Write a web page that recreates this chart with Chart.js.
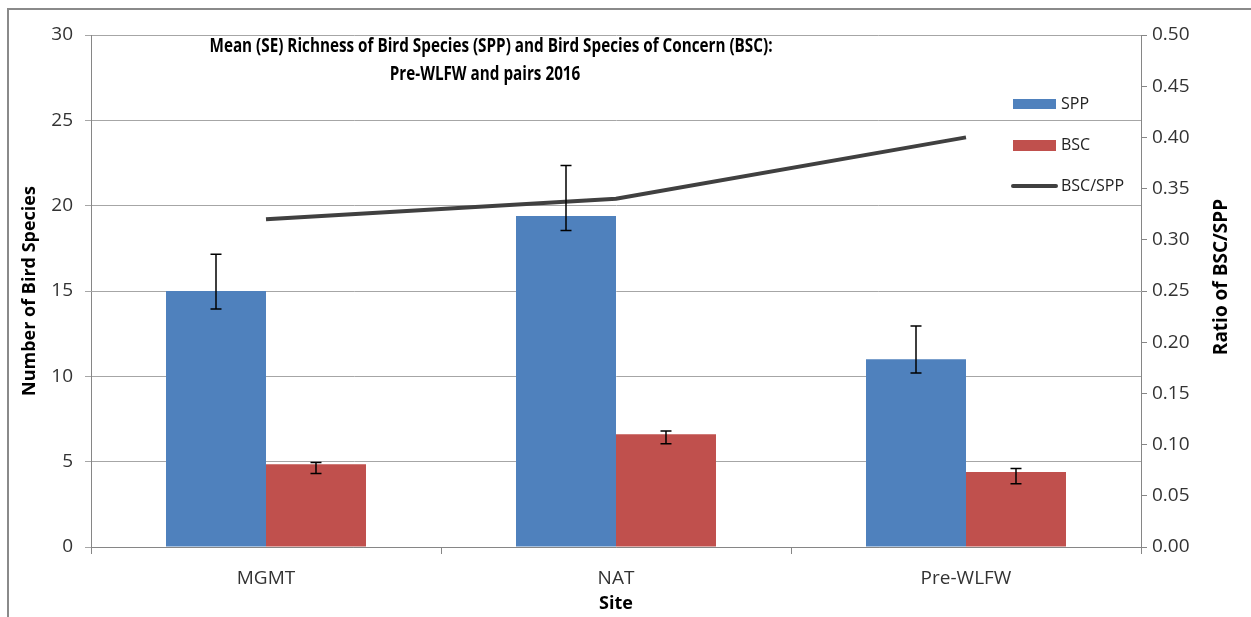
<!DOCTYPE html>
<html>
<head>
<meta charset="utf-8">
<script src="https://cdn.jsdelivr.net/npm/chart.js@4.4.0/dist/chart.umd.min.js"></script>
<style>
body { margin: 0; background: #fff; }
</style>
</head>
<body>
<canvas id="birdChart" width="1251" height="617"></canvas>
<script>
// data
const sites = ['MGMT', 'NAT', 'Pre-WLFW'];
const sppMean = [15.0, 19.4, 11.0];
const sppHigh = [17.15, 22.35, 12.95];
const sppLow = [13.95, 18.55, 10.2];
const bscMean = [4.85, 6.6, 4.4];
const bscHigh = [4.95, 6.8, 4.6];
const bscLow = [4.3, 6.05, 3.7];
const ratio = [0.32, 0.34, 0.40];

const titleLines = ['Mean (SE) Richness of Bird Species (SPP) and Bird Species of Concern (BSC):', 'Pre-WLFW and pairs 2016'];

const SPP_COLOR = '#4F81BD';
const BSC_COLOR = '#C0504D';
const LINE_COLOR = '#404040';
const AXIS_COLOR = '#868686';
const FONT = '"Open Sans", "DejaVu Sans", sans-serif';

// border, error bars, title, legend and right axis title
const chartDecor = {
    id: 'chartDecor',
    beforeDraw(chart) {
        const ctx = chart.ctx;
        ctx.save();
        ctx.fillStyle = '#fff';
        ctx.fillRect(0, 0, chart.width, chart.height);
        ctx.strokeStyle = '#8a8a8a';
        ctx.lineWidth = 2;
        ctx.beginPath();
        ctx.moveTo(8, chart.height);
        ctx.lineTo(8, 9);
        ctx.lineTo(chart.width, 9);
        ctx.stroke();
        ctx.restore();
    },
    afterDatasetsDraw(chart) {
        const ctx = chart.ctx;
        const y = chart.scales.y;
        const bars = [[1, sppHigh, sppLow], [2, bscHigh, bscLow]];
        ctx.save();
        ctx.strokeStyle = '#000';
        ctx.lineWidth = 1.5;
        bars.forEach(([idx, hi, lo]) => {
            chart.getDatasetMeta(idx).data.forEach((bar, i) => {
                const yh = y.getPixelForValue(hi[i]);
                const yl = y.getPixelForValue(lo[i]);
                ctx.beginPath();
                ctx.moveTo(bar.x, yh);
                ctx.lineTo(bar.x, yl);
                ctx.moveTo(bar.x - 5.5, yh);
                ctx.lineTo(bar.x + 5.5, yh);
                ctx.moveTo(bar.x - 5.5, yl);
                ctx.lineTo(bar.x + 5.5, yl);
                ctx.stroke();
            });
        });
        ctx.restore();
    },
    afterDraw(chart) {
        const ctx = chart.ctx;
        const area = chart.chartArea;
        ctx.save();

        // title (squeezed a little, the original font is narrow)
        ctx.fillStyle = '#000';
        ctx.textAlign = 'center';
        ctx.textBaseline = 'alphabetic';
        ctx.font = 'bold 20px ' + FONT;
        const w1 = ctx.measureText(titleLines[0]).width;
        const squeeze = Math.min(1, 563 / w1);
        ctx.fillText(titleLines[0], 491, 52, w1 * squeeze);
        const w2 = ctx.measureText(titleLines[1]).width;
        ctx.fillText(titleLines[1], 485, 80, w2 * squeeze);

        // legend
        ctx.textAlign = 'left';
        ctx.textBaseline = 'middle';
        ctx.font = '16px ' + FONT;
        ctx.fillStyle = SPP_COLOR;
        ctx.fillRect(1013, 99, 43, 10);
        ctx.fillStyle = BSC_COLOR;
        ctx.fillRect(1013, 140, 43, 11);
        ctx.strokeStyle = LINE_COLOR;
        ctx.lineWidth = 4;
        ctx.lineCap = 'round';
        ctx.beginPath();
        ctx.moveTo(1013, 186);
        ctx.lineTo(1056, 186);
        ctx.stroke();
        ctx.fillStyle = '#222';
        ctx.fillText('SPP', 1061, 104);
        ctx.fillText('BSC', 1061, 145.5);
        ctx.fillText('BSC/SPP', 1061, 186);

        // right axis title reads bottom to top like the left one
        ctx.font = 'bold 19px ' + FONT;
        ctx.fillStyle = '#000';
        ctx.textAlign = 'center';
        ctx.textBaseline = 'middle';
        ctx.translate(1222, (area.top + area.bottom) / 2 - 14);
        ctx.rotate(-Math.PI / 2);
        ctx.fillText('Ratio of BSC/SPP', 0, 0);
        ctx.restore();
    }
};

const tickFont = { family: FONT, size: 19 };
const axisTitleFont = { family: FONT, size: 18, weight: 'bold' };

new Chart(document.getElementById('birdChart').getContext('2d'), {
    type: 'bar',
    data: {
        labels: sites,
        datasets: [
            {
                type: 'line',
                label: 'BSC/SPP',
                data: ratio,
                yAxisID: 'y1',
                borderColor: LINE_COLOR,
                borderWidth: 4,
                pointRadius: 0,
                tension: 0
            },
            {
                label: 'SPP',
                data: sppMean,
                yAxisID: 'y',
                backgroundColor: SPP_COLOR,
                categoryPercentage: 0.5714,
                barPercentage: 1
            },
            {
                label: 'BSC',
                data: bscMean,
                yAxisID: 'y',
                backgroundColor: BSC_COLOR,
                categoryPercentage: 0.5714,
                barPercentage: 1
            }
        ]
    },
    options: {
        responsive: false,
        animation: false,
        devicePixelRatio: 1,
        layout: { padding: { top: 35, left: 0, right: 0, bottom: 0 } },
        plugins: {
            legend: { display: false },
            tooltip: { enabled: false }
        },
        scales: {
            x: {
                afterFit(scale) { scale.height = 70; },
                grid: { drawOnChartArea: false, color: AXIS_COLOR, tickLength: 7 },
                border: { color: AXIS_COLOR },
                ticks: { font: tickFont, color: '#333', padding: 13 },
                title: { display: true, text: 'Site', font: axisTitleFont, color: '#000', padding: { top: 0, bottom: 2 } }
            },
            y: {
                position: 'left',
                min: 0,
                max: 30,
                afterFit(scale) { scale.width = 91; },
                grid: { color: '#a6a6a6', tickLength: 6 },
                border: { color: AXIS_COLOR },
                ticks: { stepSize: 5, font: tickFont, color: '#333', padding: 12 },
                title: { display: true, text: 'Number of Bird Species', font: axisTitleFont, color: '#000', padding: { top: 19, bottom: 0 } }
            },
            y1: {
                position: 'right',
                min: 0,
                max: 0.5,
                afterFit(scale) { scale.width = 110; },
                grid: { drawOnChartArea: false, color: AXIS_COLOR, tickLength: 6 },
                border: { color: AXIS_COLOR },
                ticks: {
                    stepSize: 0.05,
                    font: tickFont,
                    color: '#333',
                    padding: 5,
                    callback: v => v.toFixed(2)
                }
            }
        }
    },
    plugins: [chartDecor]
});
</script>
</body>
</html>
